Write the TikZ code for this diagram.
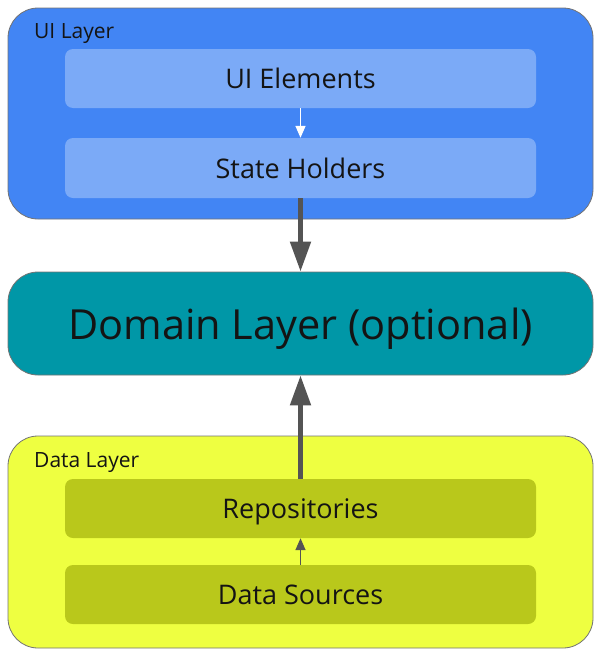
\documentclass[tikz,border=0pt]{standalone}
\usepackage{fontspec}
\setmainfont{Open Sans}
\usetikzlibrary{arrows.meta}
\definecolor{uibl}{HTML}{4285F4}
\definecolor{uilt}{HTML}{7BAAF7}
\definecolor{domt}{HTML}{0097A7}
\definecolor{daty}{HTML}{EEFF41}
\definecolor{datd}{HTML}{B9C81B}
\colorlet{arrg}{black!67}
\colorlet{txtd}{black!92}

\begin{document}
\begin{tikzpicture}[
        x=1pt,y=-1pt,
        layer/.style={draw=black!55,line width=0.8pt,rounded corners=30pt,
            minimum width=585pt,inner sep=0pt},
        part/.style={rounded corners=8pt,minimum width=471pt,minimum height=59pt,
            inner sep=0pt,text=txtd,text depth=0pt,font=\fontsize{27}{32}\selectfont},
        lbl/.style={anchor=west,inner sep=0pt,text=txtd,font=\fontsize{21}{25}\selectfont},
        bigarrow/.style={arrg,line width=5pt,-{Triangle[length=30pt,width=20pt]}},
        smallarrow/.style={line width=1.5pt,-{Triangle[length=12pt,width=10pt]}}
    ]
    \useasboundingbox (0,0) rectangle (600,656);
    % layers
    \node[layer,fill=uibl,minimum height=211pt] (ui) at (300.5,113.5) {};
    \node[layer,fill=domt,minimum height=103pt,text=txtd,text depth=0pt,
        font=\fontsize{41.5}{48}\selectfont]
        (domain) at (300.5,323.5) {Domain Layer (optional)};
    \node[layer,fill=daty,minimum height=212pt] (data) at (300.5,542) {};
    \node[lbl] (uilabel) at (34,34) {UI Layer};
    \node[lbl] (datalabel) at (34,463) {Data Layer};
    % parts
    \node[part,fill=uilt] (elements) at (300.5,78.5) {UI Elements};
    \node[part,fill=uilt,minimum height=60pt] (holders) at (300.5,168) {State Holders};
    \node[part,fill=datd] (repos) at (300.5,508.5) {Repositories};
    \node[part,fill=datd] (sources) at (300.5,594.5) {Data Sources};
    % arrows
    \draw[smallarrow,white] (elements) -- (holders);
    \draw[smallarrow,arrg] (sources) -- (repos);
    \draw[bigarrow] (holders) -- (domain);
    \draw[bigarrow] (repos) -- (domain);
\end{tikzpicture}
\end{document}
